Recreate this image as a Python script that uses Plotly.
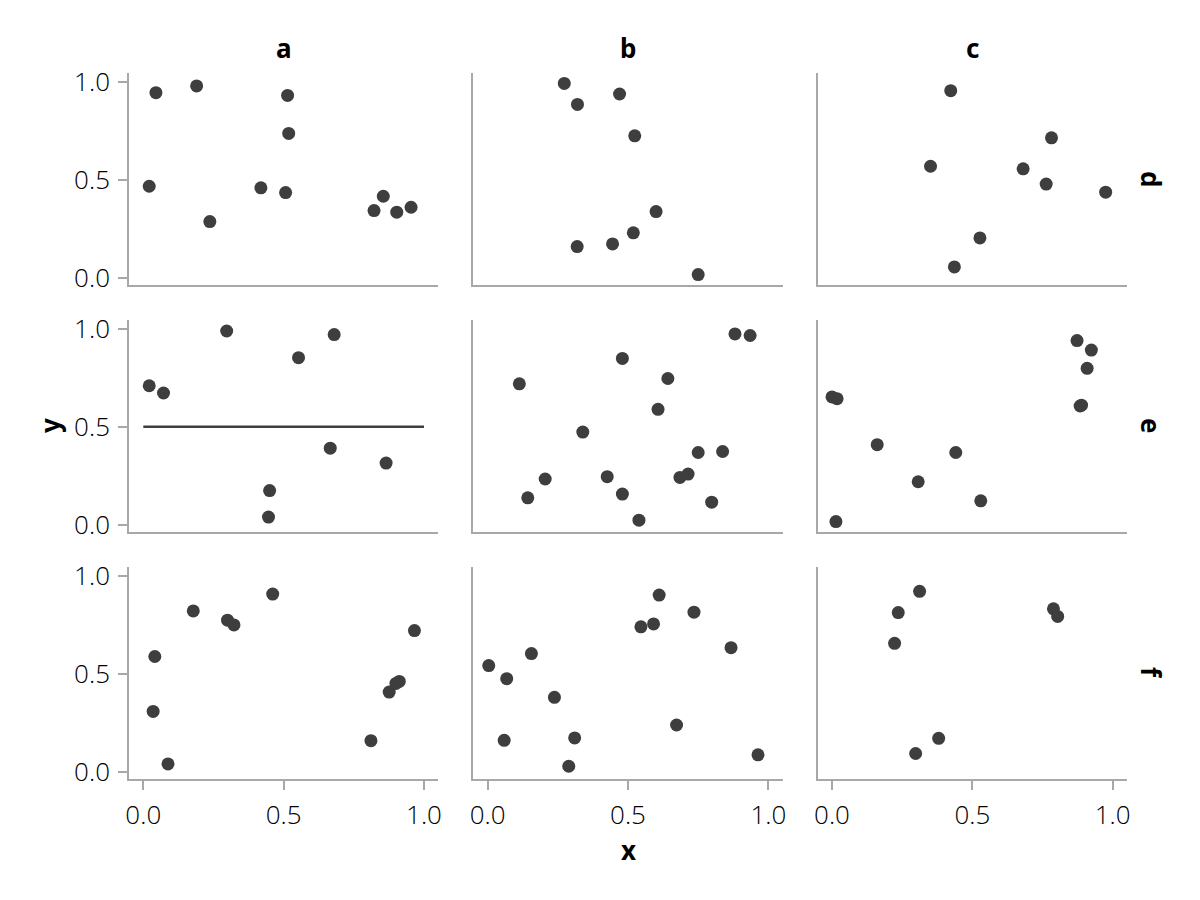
import plotly.graph_objects as go

# facet labels
col_labels = ["a", "b", "c"]
row_labels = ["d", "e", "f"]
x_title = "x"
y_title = "y"
tick_vals = [0.0, 0.5, 1.0]
tick_text = ["0.0", "0.5", "1.0"]

# row d
x_d_a = [0.045, 0.190, 0.514, 0.518, 0.021, 0.237, 0.419, 0.507, 0.822, 0.855, 0.903, 0.954]
y_d_a = [0.944, 0.978, 0.930, 0.736, 0.467, 0.287, 0.459, 0.435, 0.343, 0.416, 0.335, 0.360]
x_d_b = [0.273, 0.320, 0.470, 0.524, 0.600, 0.519, 0.445, 0.319, 0.750]
y_d_b = [0.991, 0.884, 0.937, 0.724, 0.338, 0.230, 0.173, 0.160, 0.017]
x_d_c = [0.423, 0.782, 0.351, 0.681, 0.763, 0.975, 0.527, 0.436]
y_d_c = [0.954, 0.714, 0.569, 0.556, 0.478, 0.437, 0.204, 0.056]

# row e
x_e_a = [0.021, 0.072, 0.297, 0.553, 0.680, 0.666, 0.450, 0.446, 0.865]
y_e_a = [0.709, 0.672, 0.988, 0.852, 0.970, 0.391, 0.175, 0.040, 0.315]
x_e_b = [0.881, 0.935, 0.480, 0.113, 0.642, 0.607, 0.339, 0.750, 0.837,
         0.205, 0.143, 0.426, 0.480, 0.539, 0.685, 0.714, 0.798]
y_e_b = [0.973, 0.965, 0.848, 0.719, 0.746, 0.589, 0.473, 0.369, 0.374,
         0.234, 0.138, 0.246, 0.157, 0.024, 0.242, 0.259, 0.116]
x_e_c = [0.873, 0.924, 0.909, 0.884, 0.889, 0.000, 0.018, 0.161, 0.441, 0.307, 0.530, 0.014]
y_e_c = [0.939, 0.891, 0.798, 0.606, 0.610, 0.652, 0.643, 0.409, 0.369, 0.220, 0.123, 0.017]

# horizontal reference line in panel (e, a)
line_x = [0.0, 1.0]
line_y = [0.5, 0.5]

# row f
x_f_a = [0.178, 0.461, 0.300, 0.323, 0.041, 0.035, 0.088, 0.966, 0.876, 0.900, 0.912, 0.811]
y_f_a = [0.820, 0.906, 0.773, 0.749, 0.588, 0.308, 0.041, 0.720, 0.407, 0.451, 0.461, 0.159]
x_f_b = [0.004, 0.068, 0.156, 0.238, 0.059, 0.310, 0.289, 0.611, 0.735, 0.546, 0.591, 0.867, 0.673, 0.963]
y_f_b = [0.542, 0.475, 0.603, 0.380, 0.161, 0.173, 0.029, 0.901, 0.814, 0.739, 0.754, 0.633, 0.239, 0.087]
x_f_c = [0.312, 0.236, 0.223, 0.789, 0.804, 0.380, 0.298]
y_f_c = [0.920, 0.812, 0.655, 0.831, 0.792, 0.171, 0.094]

panels = [
    [(x_d_a, y_d_a), (x_d_b, y_d_b), (x_d_c, y_d_c)],
    [(x_e_a, y_e_a), (x_e_b, y_e_b), (x_e_c, y_e_c)],
    [(x_f_a, y_f_a), (x_f_b, y_f_b), (x_f_c, y_f_c)],
]

OFF = 8  # default page body margin
W, H = 1200 - 2 * OFF, 900 - 2 * OFF
# plot area in absolute window pixels: x 129..1127, y 73..779
ML = 129 - OFF
MT = 73 - OFF
MR = (OFF + W) - 1127
MB = (OFF + H) - 779
PW, PH = W - ML - MR, H - MT - MB

col_px = [(0, 309.3), (344.3, 653.7), (688.7, 998)]
row_px = [(0, 212), (247, 459), (494, 706)]  # from top


def px_x(ax):  # absolute window x -> paper
    return (ax - 129) / PW


def px_y(ay):  # absolute window y -> paper
    return 1 - (ay - 73) / PH


DARK = "#3e3e3e"
SPINE = "#a8a8a8"
TICK_FONT = dict(family="Open Sans", size=26, color="#000000", weight=300)
LABEL_FONT = dict(family="Noto Sans", size=26, color="#000000", weight="bold")

fig = go.Figure()
layout = {}
for r in range(3):
    for c in range(3):
        i = r * 3 + c + 1
        xs, ys = panels[r][c]
        xa = "x" if i == 1 else f"x{i}"
        ya = "y" if i == 1 else f"y{i}"
        if r == 1 and c == 0:
            fig.add_trace(go.Scatter(x=line_x, y=line_y, mode="lines",
                                     line=dict(color=DARK, width=2.5),
                                     xaxis=xa, yaxis=ya, showlegend=False,
                                     hoverinfo="skip"))
        fig.add_trace(go.Scatter(x=xs, y=ys, mode="markers",
                                 marker=dict(color=DARK, size=13, line=dict(width=0)),
                                 xaxis=xa, yaxis=ya, showlegend=False))
        x0, x1 = col_px[c]
        y0, y1 = row_px[r]
        show_x = (r == 2)
        show_y = (c == 0)
        layout["xaxis" if i == 1 else f"xaxis{i}"] = dict(
            domain=[x0 / PW, x1 / PW], anchor=ya,
            range=[-0.051, 1.051], showgrid=False, zeroline=False,
            showline=True, linecolor=SPINE, linewidth=1.6,
            ticks="outside" if show_x else "", ticklen=9, tickwidth=1.6, tickcolor=SPINE,
            tickvals=tick_vals, ticktext=tick_text, showticklabels=show_x,
            tickfont=TICK_FONT, ticklabelstandoff=3,
        )
        layout["yaxis" if i == 1 else f"yaxis{i}"] = dict(
            domain=[1 - y1 / PH, 1 - y0 / PH], anchor=xa,
            range=[-0.036, 1.044], showgrid=False, zeroline=False,
            showline=True, linecolor=SPINE, linewidth=1.6,
            ticks="outside" if show_y else "", ticklen=9, tickwidth=1.6, tickcolor=SPINE,
            tickvals=tick_vals, ticktext=tick_text, showticklabels=show_y,
            tickfont=TICK_FONT, ticklabelstandoff=3,
        )

annotations = []
for c, lab in enumerate(col_labels):
    cx = (col_px[c][0] + col_px[c][1]) / 2 / PW
    annotations.append(dict(text=lab, x=cx, y=px_y(48), xref="paper", yref="paper",
                            xanchor="center", yanchor="middle", showarrow=False, font=LABEL_FONT))
for r, lab in enumerate(row_labels):
    cy = 1 - (row_px[r][0] + row_px[r][1]) / 2 / PH
    annotations.append(dict(text=lab, x=px_x(1151), y=cy, xref="paper", yref="paper",
                            xanchor="center", yanchor="middle", showarrow=False,
                            textangle=90, font=LABEL_FONT))
annotations.append(dict(text=x_title, x=(col_px[1][0] + col_px[1][1]) / 2 / PW,
                        y=px_y(850), xref="paper", yref="paper",
                        xanchor="center", yanchor="middle", showarrow=False, font=LABEL_FONT))
annotations.append(dict(text=y_title, x=px_x(50),
                        y=1 - (row_px[1][0] + row_px[1][1]) / 2 / PH, xref="paper", yref="paper",
                        xanchor="center", yanchor="middle", showarrow=False,
                        textangle=-90, font=LABEL_FONT))

fig.update_layout(**layout)
fig.update_layout(
    width=W, height=H,
    margin=dict(l=ML, r=MR, t=MT, b=MB, pad=0),
    paper_bgcolor="white", plot_bgcolor="white",
    annotations=annotations,
    showlegend=False,
)
fig.write_html("out.html")
